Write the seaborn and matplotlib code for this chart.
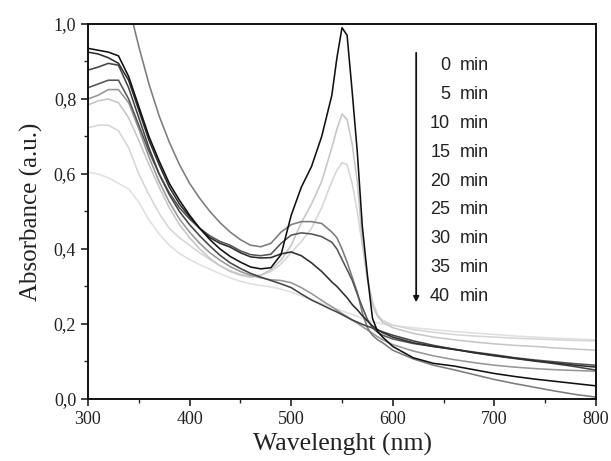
import matplotlib
matplotlib.use("Agg")
import matplotlib.pyplot as plt
from matplotlib.ticker import MultipleLocator, FuncFormatter
import seaborn as sns
import pandas as pd
import numpy as np

# ---------------- data ----------------
wavelength = [300, 310, 320, 330, 340, 350, 360, 370, 380, 390, 400, 410, 420, 430, 440,
              450, 460, 470, 480, 490, 500, 510, 520, 530, 540, 545, 550, 555, 560, 565,
              570, 575, 580, 585, 590, 600, 620, 640, 660, 680, 700, 720, 740, 760, 780, 800]

times = ["0 min", "5 min", "10 min", "15 min", "20 min", "25 min", "30 min", "35 min", "40 min"]

abs_0 = [.935, .93, .925, .915, .86, .78, .70, .635, .575, .53, .49, .455, .425, .40, .38,
         .365, .352, .347, .35, .385, .49, .565, .62, .70, .81, .91, .99, .97, .82, .66,
         .46, .33, .215, .18, .165, .14, .11, .095, .088, .078, .068, .06, .053, .047, .041, .035]
abs_5 = [.784, .795, .80, .79, .75, .69, .625, .565, .51, .465, .43, .40, .375, .355, .34,
         .33, .325, .33, .345, .37, .41, .47, .52, .58, .67, .72, .76, .745, .68, .58,
         .42, .32, .25, .22, .205, .19, .175, .165, .158, .152, .147, .143, .14, .136, .133, .13]
abs_10 = [.723, .73, .73, .715, .67, .60, .545, .495, .455, .43, .41, .39, .372, .355, .342,
          .333, .328, .33, .34, .36, .39, .42, .455, .51, .58, .61, .63, .625, .575, .50,
          .41, .32, .26, .225, .21, .197, .185, .178, .172, .168, .165, .162, .16, .158, .156, .155]
abs_15 = [None, None, None, None, 1.05, .94, .84, .755, .685, .625, .575, .535, .50, .47, .445,
          .425, .41, .406, .415, .445, .465, .473, .473, .468, .445, .43, .40, .365, .325, .285,
          .23, .19, .17, .158, .15, .13, .107, .09, .078, .065, .052, .041, .031, .021, .012, .005]
abs_20 = [.83, .84, .85, .85, .80, .73, .66, .60, .55, .51, .48, .455, .435, .42, .41,
          .395, .385, .382, .386, .415, .437, .443, .44, .433, .418, .40, .372, .345, .317, .28,
          .245, .212, .19, .178, .17, .16, .148, .14, .133, .125, .118, .11, .104, .099, .094, .09]
abs_25 = [.925, .92, .91, .895, .85, .77, .69, .625, .565, .52, .485, .455, .43, .415, .405,
          .39, .379, .376, .377, .387, .392, .382, .363, .34, .312, .30, .285, .27, .252, .238,
          .222, .208, .195, .185, .177, .165, .15, .14, .132, .124, .116, .109, .102, .096, .09, .085]
abs_30 = [.80, .81, .825, .825, .79, .72, .645, .58, .525, .48, .445, .415, .39, .37, .353,
          .34, .33, .323, .318, .316, .31, .297, .281, .263, .246, .237, .228, .22, .21, .202,
          .193, .184, .175, .166, .158, .145, .128, .115, .105, .097, .09, .085, .081, .078, .076, .074]
abs_35 = [.877, .885, .895, .89, .83, .75, .67, .60, .545, .50, .465, .435, .408, .383, .363,
          .348, .335, .325, .316, .307, .297, .28, .264, .251, .238, .232, .225, .218, .211, .205,
          .199, .194, .189, .184, .179, .17, .155, .143, .133, .123, .115, .108, .101, .094, .086, .077]
abs_40 = [.605, .60, .59, .575, .56, .525, .478, .44, .41, .388, .372, .358, .346, .334, .323,
          .314, .307, .303, .299, .293, .285, .275, .265, .255, .245, .24, .235, .23, .225, .22,
          .215, .21, .206, .203, .20, .196, .19, .185, .18, .176, .172, .168, .165, .162, .16, .158]

series = [abs_0, abs_5, abs_10, abs_15, abs_20, abs_25, abs_30, abs_35, abs_40]
line_colors = ["#111111", "#c6c6c6", "#d6d6d6", "#7c7c7c", "#555555",
               "#2e2e2e", "#979797", "#444444", "#e0e0e0"]

x_ticks = [300, 400, 500, 600, 700, 800]
y_ticks = [0.0, 0.2, 0.4, 0.6, 0.8, 1.0]

# ---------------- build table ----------------
rows = []
for t, vals in zip(times, series):
    for w, a in zip(wavelength, vals):
        if a is not None:
            rows.append({"wl": w, "A": a, "time": t})
df = pd.DataFrame(rows)

# ---------------- plot ----------------
sns.set_theme(style="white")
plt.rcParams["font.family"] = ["Liberation Serif", "DejaVu Serif"]

fig = plt.figure(figsize=(6.11, 4.61), dpi=100)
ax = fig.add_axes([0.144, 0.1345, 0.8315, 0.8135])

palette = dict(zip(times, line_colors))
# draw lightest first so dark lines sit on top
order = ["40 min", "10 min", "5 min", "30 min", "15 min", "20 min", "35 min", "25 min", "0 min"]
for t in order:
    sns.lineplot(data=df[df["time"] == t], x="wl", y="A", color=palette[t],
                 linewidth=1.15, ax=ax, legend=False, errorbar=None)

ax.set_xlim(300, 800)
ax.set_ylim(0.0, 1.0)
ax.set_xticks(x_ticks)
ax.set_yticks(y_ticks)
ax.xaxis.set_minor_locator(MultipleLocator(50))
ax.yaxis.set_minor_locator(MultipleLocator(0.1))
ax.xaxis.set_major_formatter(FuncFormatter(lambda v, p: f"{int(round(v))}"))
ax.yaxis.set_major_formatter(FuncFormatter(lambda v, p: f"{v:.1f}".replace(".", ",")))

ax.tick_params(axis="both", which="major", direction="out", length=5, width=1.2,
               labelsize=13, colors="#222222", bottom=True, left=True, top=False, right=False)
ax.tick_params(axis="both", which="minor", direction="out", length=3, width=1.0,
               bottom=True, left=True, top=False, right=False)
for s in ax.spines.values():
    s.set_color("#111111")
    s.set_linewidth(1.4)

ax.set_xlabel("Wavelenght (nm)", fontsize=18.5, color="#222222", labelpad=4)
ax.set_ylabel("Absorbance (a.u.)", fontsize=18, color="#222222", labelpad=8)

# legend-like annotation
leg_num_x = 656.5
leg_min_x = 665.5
leg_y0 = 0.888
leg_dy = 0.0768
for i, t in enumerate(times):
    num, unit = t.split(" ")
    y = leg_y0 - i * leg_dy
    ax.text(leg_num_x, y, num, ha="right", va="center", fontsize=13,
            family=["Liberation Sans", "DejaVu Sans"], color="#222222")
    ax.text(leg_min_x, y, unit, ha="left", va="center", fontsize=13,
            family=["Liberation Sans", "DejaVu Sans"], color="#222222")

ax.annotate("", xy=(623, 0.258), xytext=(623, 0.923),
            arrowprops=dict(arrowstyle="-|>", color="#111111", lw=1.3,
                            mutation_scale=8, shrinkA=0, shrinkB=0))

fig.savefig("out.png", dpi=100)
